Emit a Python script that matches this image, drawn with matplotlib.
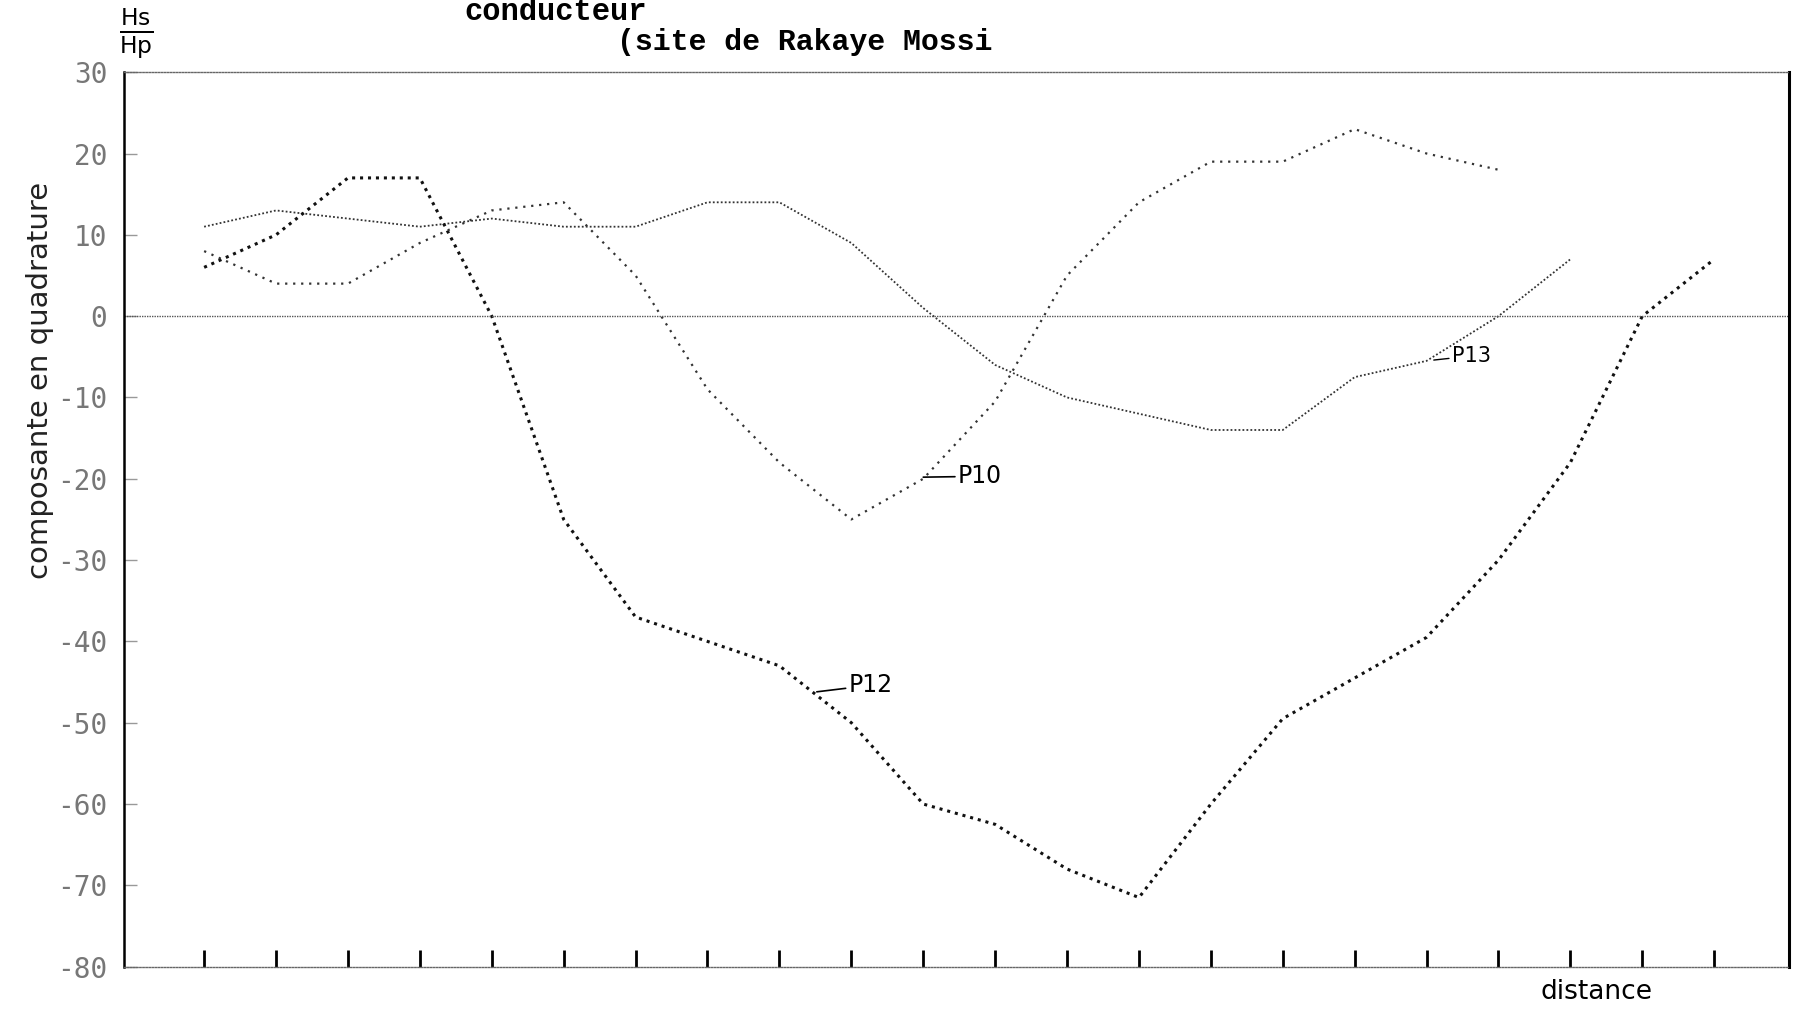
import matplotlib
matplotlib.use("Agg")
import matplotlib.pyplot as plt

plt.rcParams['axes.unicode_minus'] = False

# station index along the profile (one tick per station)
stations = list(range(22))
p10 = [8, 4, 4, 9, 13, 14, 5, -9, -18, -25, -20, -10.5, 5, 14, 19, 19, 23, 20, 18]
p12 = [6, 10, 17, 17, 0, -25, -37, -40, -43, -50, -60, -62.5, -68, -71.5,
       -60, -49.5, -44.5, -39.5, -30, -18, 0, 7]
p13 = [11, 13, 12, 11, 12, 11, 11, 14, 14, 9, 1, -6, -10, -12, -14, -14,
       -7.5, -5.5, 0, 7]
yticks = [30, 20, 10, 0, -10, -20, -30, -40, -50, -60, -70, -80]

fig = plt.figure(figsize=(17.98, 10.17), dpi=100)
ax = fig.add_axes([0.0689, 0.0495, 0.9261, 0.8795])

ax.plot(stations[:len(p13)], p13, color='#333333', lw=1.3, ls=(0, (1, 1.2)))
ax.plot(stations[:len(p12)], p12, color='#111111', lw=2.2, ls=(0, (1, 1.6)))
ax.plot(stations[:len(p10)], p10, color='#333333', lw=1.6, ls=(0, (1, 2.6)))

ax.axhline(0, color='#555555', lw=1.0, ls=(0, (1, 0.8)))

ax.set_xlim(-1.116, 22.04)
ax.set_ylim(-80, 30)

ax.set_xticks(stations)
ax.set_xticklabels([])
ax.tick_params(axis='x', direction='in', length=12, width=2, color='black')
ax.set_yticks(yticks)
ax.set_yticklabels([str(v) for v in yticks], family='DejaVu Sans Mono',
                   fontsize=20, color='#777777')
ax.tick_params(axis='y', direction='in', length=9, width=1, color='#999999', pad=12)

ax.spines['left'].set_linewidth(1.8)
ax.spines['right'].set_linewidth(2.2)
for s in ('top', 'bottom'):
    ax.spines[s].set_linestyle((0, (1, 1.2)))
    ax.spines[s].set_color('#666666')
    ax.spines[s].set_linewidth(1.0)

# curve labels with short leaders
ax.annotate('P10', xy=(10.0, -19.8), xytext=(10.48, -19.7), fontsize=17,
            va='center', ha='left',
            arrowprops=dict(arrowstyle='-', color='black', lw=1.2, shrinkA=0, shrinkB=0))
ax.annotate('P12', xy=(8.52, -46.2), xytext=(8.96, -45.4), fontsize=17,
            va='center', ha='left',
            arrowprops=dict(arrowstyle='-', color='black', lw=1.2, shrinkA=0, shrinkB=0))
ax.annotate('P13', xy=(17.1, -5.4), xytext=(17.35, -4.9), fontsize=15,
            va='center', ha='left',
            arrowprops=dict(arrowstyle='-', color='black', lw=1.0, shrinkA=0, shrinkB=0))

fig.text(464 / 1798, 1 - 12 / 1017, 'conducteur', family='Liberation Mono',
         fontweight='bold', fontsize=22, ha='left', va='center')
fig.text(617 / 1798, 1 - 42 / 1017, '(site de Rakaye Mossi', family='Liberation Mono',
         fontweight='bold', fontsize=21.5, ha='left', va='center')
fig.text(136 / 1798, 1 - 34 / 1017, r'$\frac{\mathrm{Hs}}{\mathrm{Hp}}$', fontsize=24,
         ha='center', va='center')
fig.text(40 / 1798, 1 - 380 / 1017, 'composante en quadrature', rotation=90,
         fontsize=21, ha='center', va='center', color='#222222')
fig.text(1597 / 1798, 1 - 992 / 1017, 'distance', fontsize=19, ha='center', va='center')

fig.savefig('out.png', dpi=100, facecolor='white')
